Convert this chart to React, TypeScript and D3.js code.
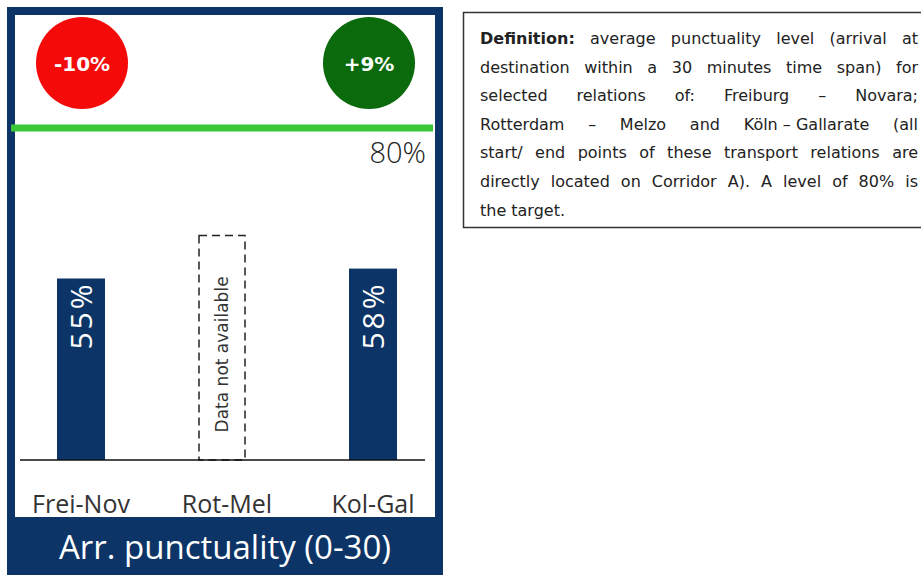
import React, { useEffect, useRef } from 'react';
import * as d3 from 'd3';

// relations shown on the panel
const categories = ["Frei-Nov", "Rot-Mel", "Kol-Gal"];
const punctuality: (number | null)[] = [55, null, 58];
const changeValues = [-10, 9];
const changeColors = ["#f50a0a", "#0b6a0b"];
const target = 80;
const title = "Arr. punctuality (0-30)";
const missingLabel = "Data not available";

const definitionLines = [
  "Definition: average punctuality level (arrival at",
  "destination within a 30 minutes time span) for",
  "selected relations of: Freiburg – Novara;",
  "Rotterdam – Melzo and Köln\u00a0–\u00a0Gallarate (all",
  "start/ end points of these transport relations are",
  "directly located on Corridor A). A level of 80% is",
  "the target.",
];

const NAVY = "#0c3466";

const App: React.FC = () => {
  const svgRef = useRef<SVGSVGElement>(null);

  useEffect(() => {
    if (!svgRef.current) return;
    const svg = d3.select(svgRef.current);
    svg.selectAll("*").remove();

    // panel frame
    svg.append("rect")
      .attr("x", 11).attr("y", 11)
      .attr("width", 428).attr("height", 580)
      .attr("fill", "white")
      .attr("stroke", NAVY)
      .attr("stroke-width", 8);

    // title band
    svg.append("rect")
      .attr("x", 7).attr("y", 517)
      .attr("width", 436).attr("height", 60)
      .attr("fill", NAVY);

    svg.append("text")
      .attr("x", 225).attr("y", 559)
      .attr("text-anchor", "middle")
      .style("font-family", "'Open Sans', sans-serif")
      .style("font-size", "33px")
      .style("fill", "white")
      .text(title);

    // change bubbles
    const bubbleX = d3.scalePoint<number>().domain(d3.range(changeValues.length)).range([82, 369]);
    const bubbles = svg.append("g").selectAll("g")
      .data(changeValues)
      .join("g")
      .attr("transform", (_, i) => `translate(${bubbleX(i)},63)`);
    bubbles.append("circle")
      .attr("r", 46)
      .attr("fill", (_, i) => changeColors[i]);
    bubbles.append("text")
      .attr("text-anchor", "middle")
      .attr("y", 8)
      .style("font-family", "'DejaVu Sans', sans-serif")
      .style("font-weight", "bold")
      .style("font-size", "20px")
      .style("fill", "white")
      .text(d => (d > 0 ? "+" : "") + d + "%");

    // target line
    svg.append("line")
      .attr("x1", 11).attr("x2", 433)
      .attr("y1", 128).attr("y2", 128)
      .attr("stroke", "#38c838")
      .attr("stroke-width", 7);
    svg.append("text")
      .attr("x", 426).attr("y", 163)
      .attr("text-anchor", "end")
      .style("font-family", "'Open Sans', sans-serif")
      .style("font-weight", "300")
      .style("font-size", "29px")
      .style("fill", "#222")
      .text(`${target}%`);

    // bars
    const x = d3.scalePoint<string>().domain(categories).range([81, 373]);
    const y = d3.scaleLinear().domain([0, 100]).range([460, 130]);
    const barW = 48;
    const data = categories.map((c, i) => ({ c, v: punctuality[i] }));
    const labelTop = y(d3.min(punctuality.filter(v => v != null) as number[])!) + 3;

    const g = svg.append("g");
    const present = data.filter(d => d.v != null);
    g.selectAll("rect.bar")
      .data(present)
      .join("rect")
      .attr("class", "bar")
      .attr("x", d => x(d.c)! - barW / 2)
      .attr("width", barW)
      .attr("y", d => y(d.v as number))
      .attr("height", d => y(0) - y(d.v as number))
      .attr("fill", NAVY);

    g.selectAll("text.val")
      .data(present)
      .join("text")
      .attr("class", "val")
      .attr("transform", d => `translate(${x(d.c)! + 11},${labelTop}) rotate(-90)`)
      .attr("text-anchor", "end")
      .style("font-family", "'Open Sans', sans-serif")
      .style("font-size", "30px")
      .style("letter-spacing", "3px")
      .style("fill", "white")
      .text(d => `${d.v}%`);

    // missing data placeholder
    const missing = data.filter(d => d.v == null);
    g.selectAll("rect.na")
      .data(missing)
      .join("rect")
      .attr("class", "na")
      .attr("x", d => x(d.c)! - 28)
      .attr("width", 46)
      .attr("y", y(68))
      .attr("height", y(0) - y(68))
      .attr("fill", "none")
      .attr("stroke", "#222")
      .attr("stroke-width", 1.5)
      .attr("stroke-dasharray", "8,5");
    g.selectAll("text.na")
      .data(missing)
      .join("text")
      .attr("class", "na")
      .attr("transform", d => `translate(${x(d.c)! + 1},${y(32)}) rotate(-90)`)
      .attr("text-anchor", "middle")
      .style("font-family", "'DejaVu Sans', sans-serif")
      .style("font-size", "17px")
      .style("fill", "#333")
      .text(missingLabel);

    // baseline
    svg.append("line")
      .attr("x1", 20).attr("x2", 425)
      .attr("y1", y(0)).attr("y2", y(0))
      .attr("stroke", "#111")
      .attr("stroke-width", 1.5);

    // category labels
    g.selectAll("text.cat")
      .data(categories)
      .join("text")
      .attr("class", "cat")
      .attr("x", d => x(d)!)
      .attr("y", 513)
      .attr("text-anchor", "middle")
      .style("font-family", "'Open Sans', sans-serif")
      .style("font-size", "25px")
      .style("fill", "#333")
      .text(d => d);

    // definition box
    svg.append("rect")
      .attr("x", 463.5).attr("y", 12.5)
      .attr("width", 470).attr("height", 215)
      .attr("fill", "white")
      .attr("stroke", "#333")
      .attr("stroke-width", 1.5);

    const left = 480, right = 918;
    const tb = svg.append("g")
      .style("font-family", "'DejaVu Sans', sans-serif")
      .style("font-size", "16px")
      .style("fill", "#222");
    definitionLines.forEach((line, li) => {
      const words = line.split(" ");
      const baseY = 44 + li * 28.6;
      const nodes = words.map((w, wi) => {
        const t = tb.append("text").attr("y", baseY).text(w);
        if (li === 0 && wi === 0) t.style("font-weight", "bold");
        return t;
      });
      const widths = nodes.map(n => (n.node() as SVGTextElement).getComputedTextLength());
      const total = d3.sum(widths);
      const last = li === definitionLines.length - 1;
      const gap = last || words.length < 2 ? 5 : (right - left - total) / (words.length - 1);
      let cx = left;
      nodes.forEach((n, i) => {
        n.attr("x", cx);
        cx += widths[i] + gap;
      });
    });
  }, []);

  return (
    <div style={{ position: "absolute", left: 0, top: 0, width: 921, height: 575, overflow: "hidden", background: "white" }}>
      <svg ref={svgRef} width={921} height={575} style={{ display: "block" }} />
    </div>
  );
};

export default App;
